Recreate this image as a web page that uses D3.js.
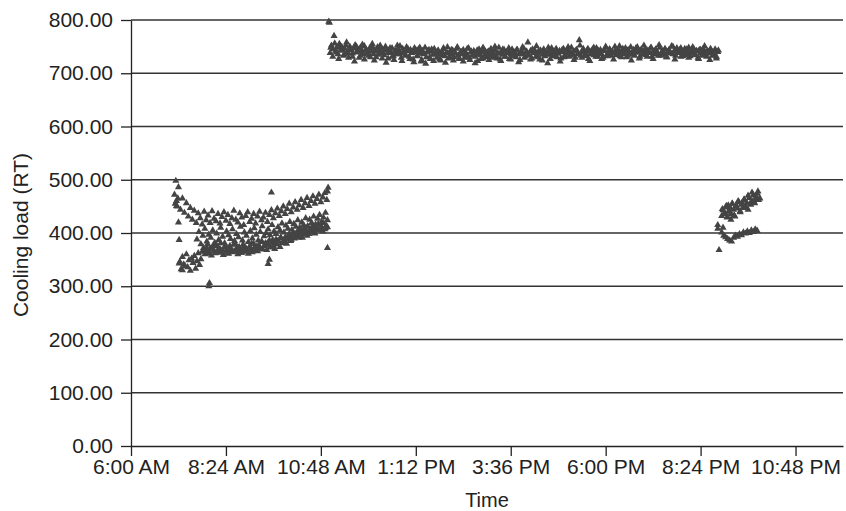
<!DOCTYPE html>
<html>
<head>
<meta charset="utf-8">
<script src="https://cdn.jsdelivr.net/npm/d3@7"></script>
<style>
  body { margin: 0; background: #fff; }
  svg { display: block; }
  text { font-family: "Liberation Sans", Arial, sans-serif; fill: #222; }
</style>
</head>
<body>
<div id="chart"></div>
<script>
// axis ticks
const xTicks = ["6:00", "8:24", "10:48", "13:12", "15:36", "18:00", "20:24", "22:48"];
const xTickLabels = ["6:00 AM", "8:24 AM", "10:48 AM", "1:12 PM", "3:36 PM", "6:00 PM", "8:24 PM", "10:48 PM"];
const yTicks = [0, 100, 200, 300, 400, 500, 600, 700, 800];

// readings: each series is logged at a fixed step (minutes) from its start time
const morningLow = { start: "7:14", step: 2, values: [
  346, 332, 355, 341, 338, 360, 336, 349, 329, 352, 344, 357, 333, 347, 362, 340, 351, 365,
  372, 360, 368, 379, 364, 371, 358, 375, 366, 362, 377, 369, 363, 381, 367, 359, 373, 365, 370, 361,
  376, 368, 364, 379, 366, 371, 360, 374, 369, 363, 378, 365, 372, 367, 361, 375, 370, 364, 380, 368, 373,
  366, 377, 371, 384, 369, 375, 381, 368, 379, 386, 373, 382, 376, 370, 388, 379, 384, 374, 390, 381, 386, 392, 380,
  389, 397, 385, 394, 401, 390, 398, 393, 405, 396, 402, 391, 408, 399, 404, 412, 398, 407, 403, 414,
  401, 410, 406, 417, 405, 412, 409, 419, 407, 414, 411] };

const morningLow2 = { start: "7:51", step: 4, values: [
  366, 372, 361, 369, 375, 364, 370, 367, 376, 362, 371, 365, 378, 368, 363, 374, 369, 366, 380, 372,
  375, 370, 383, 377, 381, 374, 387, 379, 385, 392, 383, 389, 396, 387, 393, 400, 391, 398, 404, 395,
  402, 408, 399, 406, 411, 403, 409] };

const morningMid = { start: "7:40", step: 3, values: [
  388, 402, 379, 395, 408, 384, 397, 391, 405, 382, 399, 387, 410, 393, 381, 403, 396, 389, 407, 385,
  398, 392, 412, 386, 401, 395, 383, 404, 390, 409, 397, 386, 402, 413, 394, 400, 407, 396, 415, 403,
  398, 411, 405, 418, 401, 414, 408, 421, 406, 417, 412, 424, 410, 420, 415, 428, 413, 425, 419, 431,
  416, 427, 434, 421, 429, 438, 424] };

const morningHigh = { start: "7:06", step: 3, values: [
  472, 451, 486, 444, 465, 438, 456, 431, 447, 425, 442, 419, 437, 428, 416, 440, 424, 433, 419, 441,
  427, 422, 436, 418, 430, 439, 423, 434, 417, 428, 442, 425, 420, 437, 429, 415, 432, 439, 421, 427,
  436, 418, 431, 440, 424, 429, 438, 421, 434, 443, 428, 437, 446, 432, 441, 450, 436, 445, 455, 439,
  448, 458, 444, 452, 462, 447, 456, 466, 451, 460, 469, 455, 464, 472, 458, 467, 475, 462] };

const dayRun = { start: "11:02", step: 2, values: [
  738, 752, 745, 770, 741, 748, 736, 755, 743, 749, 733, 746, 752, 740, 737, 750, 744, 731, 747, 753,
  739, 745, 729, 748, 742, 736, 751, 744, 738, 733, 747, 741, 755, 736, 744, 730, 749, 742, 737, 746,
  740, 734, 750, 743, 728, 745, 739, 747, 732, 741, 736, 752, 744, 738, 729, 746, 740, 735, 749, 742,
  731, 744, 738, 726, 747, 740, 733, 745, 737, 722, 742, 736, 748, 730, 739, 744, 727, 741, 735, 746,
  738, 729, 743, 736, 724, 740, 745, 732, 737, 749, 728, 741, 735, 743, 730, 738, 746, 733, 727, 740,
  736, 744, 729, 738, 733, 747, 725, 740, 735, 742, 731, 737, 723, 745, 734, 739, 728, 743, 736, 730,
  741, 734, 746, 729, 738, 743, 732, 737, 748, 726, 740, 735, 744, 731, 738, 742, 727, 736, 745, 733,
  739, 730, 744, 736, 725, 741, 737, 746, 732, 739, 758, 734, 742, 728, 738, 744, 731, 737, 741, 726,
  740, 735, 745, 732, 738, 719, 742, 736, 747, 733, 739, 744, 730, 737, 742, 728, 740, 746, 734, 738,
  743, 731, 739, 748, 735, 741, 729, 744, 737, 762, 733, 740, 746, 732, 738, 743, 727, 741, 736, 745,
  734, 740, 747, 731, 738, 744, 736, 729, 742, 748, 735, 739, 745, 733, 741, 737, 750, 734, 740, 744,
  732, 739, 746, 736, 742, 730, 744, 738, 749, 735, 741, 733, 747, 739, 743, 731, 745, 737, 752, 740,
  734, 743, 738, 747, 731, 741, 736, 745, 739, 733, 748, 737, 742, 735, 746, 730, 740, 744, 738, 751,
  736, 742, 733, 747, 739, 744, 731, 741, 737, 746, 734, 740, 748, 732, 743, 738, 745, 735, 741, 729,
  744, 738, 733, 746, 740, 735, 742, 737, 725, 743, 739, 734, 745, 731, 740] };

const dayRun2 = { start: "11:03", step: 3, values: [
  748, 731, 756, 739, 727, 751, 743, 735, 758, 729, 746, 737, 722, 750, 741, 733, 754, 726, 744, 738,
  730, 749, 724, 741, 735, 752, 728, 744, 720, 738, 747, 731, 725, 743, 736, 751, 723, 740, 733, 746,
  727, 739, 721, 744, 732, 748, 725, 737, 718, 742, 730, 745, 723, 736, 741, 726, 734, 747, 720, 738,
  731, 744, 724, 737, 749, 728, 740, 722, 735, 746, 729, 741, 733, 719, 743, 736, 727, 748, 732, 739,
  725, 742, 734, 750, 728, 737, 723, 745, 731, 740, 747, 726, 738, 733, 744, 721, 736, 749, 729, 741,
  734, 726, 745, 738, 751, 730, 743, 724, 739, 735, 748, 727, 741, 732, 746, 737, 722, 744, 730, 740,
  749, 733, 738, 725, 743, 736, 752, 729, 741, 734, 746, 723, 739, 748, 731, 744, 736, 727, 742, 750,
  732, 745, 738, 726, 743, 735, 751, 730, 740, 747, 733, 737, 724, 744, 739, 749, 728, 742, 735, 746,
  731, 740, 748, 727, 743, 736, 753, 733, 739, 745, 730, 742, 737, 750, 726, 744, 738, 747, 732, 741,
  745, 729, 738, 749, 734, 742, 727, 744, 736, 751, 731, 740, 746, 733, 739, 728, 743] };

const eveningHigh = { start: "20:56", step: 2, values: [
  432, 443, 437, 448, 429, 452, 441, 436, 455, 444, 431, 450, 446, 458, 439, 453, 447, 462, 449, 457,
  444, 466, 453, 460, 471, 456, 464, 474, 462] };

const eveningHigh2 = { start: "20:57", step: 3, values: [
  445, 436, 451, 440, 447, 455, 433, 452, 460, 441, 457, 463, 448, 470, 455, 476, 459, 468, 478, 465] };

const eveningLow = { start: "20:56", step: 3, values: [
  401, 395, 392, 389, 386, 384, 391, 395, 393, 398, 396, 401, 399, 403, 400, 405, 402, 407, 404] };

// isolated readings [time, RT]
const strays = [
  ["7:07", 455], ["7:08", 498], ["7:09", 460], ["7:10", 450], ["7:11", 465], ["7:12", 420],
  ["7:13", 387], ["7:13", 343], ["7:18", 330], ["7:58", 300], ["7:59", 306], ["9:28", 342], ["9:30", 350],
  ["9:33", 476], ["10:58", 372], ["10:58", 478], ["10:59", 485], ["11:00", 797], ["11:01", 795],
  ["20:50", 415], ["20:50", 408], ["20:52", 368], ["20:58", 410], ["21:05", 430], ["21:10", 425],
  ["21:15", 432]
];

const toMin = s => { const [h, m] = s.split(":").map(Number); return h * 60 + m; };

const points = [];
[morningLow, morningLow2, morningMid, morningHigh, dayRun, dayRun2, eveningHigh, eveningHigh2, eveningLow].forEach(s => {
  const t0 = toMin(s.start);
  s.values.forEach((v, i) => points.push({ t: t0 + i * s.step, v }));
});
strays.forEach(d => points.push({ t: toMin(d[0]), v: d[1] }));

const W = 846, H = 511;
const m = { left: 131, right: 3, top: 20, bottom: 65 };

const svg = d3.select("#chart").append("svg")
  .attr("width", W)
  .attr("height", H);

const x = d3.scaleLinear().domain([360, 1440]).range([m.left, W - m.right]);
const y = d3.scaleLinear().domain([0, 800]).range([H - m.bottom, m.top]);

// gridlines
svg.append("g")
  .selectAll("line")
  .data(yTicks.filter(d => d > 0))
  .enter()
  .append("line")
  .attr("x1", m.left)
  .attr("x2", W - m.right)
  .attr("y1", d => y(d))
  .attr("y2", d => y(d))
  .attr("stroke", "#333")
  .attr("stroke-width", 1.3);

// y axis
const yAxis = svg.append("g")
  .attr("transform", `translate(${m.left},0)`)
  .call(d3.axisLeft(y).tickValues(yTicks).tickFormat(d3.format(".2f")).tickSize(10).tickSizeOuter(0));

// x axis
const xAxis = svg.append("g")
  .attr("transform", `translate(0,${H - m.bottom})`)
  .call(d3.axisBottom(x)
    .tickValues(xTicks.map(toMin))
    .tickFormat((d, i) => xTickLabels[i])
    .tickSize(10)
    .tickSizeOuter(0));

[yAxis, xAxis].forEach(g => {
  g.selectAll("path, line").attr("stroke", "#222").attr("stroke-width", 1.3);
  g.selectAll("text").style("font-size", "21px").attr("fill", "#222");
});
yAxis.selectAll("text").attr("x", -18);
xAxis.selectAll("text").attr("y", 13);

// points
svg.append("g")
  .selectAll("path")
  .data(points)
  .enter()
  .append("path")
  .attr("transform", d => `translate(${x(d.t)},${y(d.v)})`)
  .attr("d", d3.symbol().type(d3.symbolTriangle).size(22))
  .attr("fill", "#444");

// axis titles
svg.append("text")
  .attr("x", 487)
  .attr("y", 507)
  .attr("text-anchor", "middle")
  .style("font-size", "20px")
  .text("Time");

svg.append("text")
  .attr("transform", `translate(28,235) rotate(-90)`)
  .attr("text-anchor", "middle")
  .style("font-size", "21px")
  .text("Cooling load (RT)");
</script>
</body>
</html>
